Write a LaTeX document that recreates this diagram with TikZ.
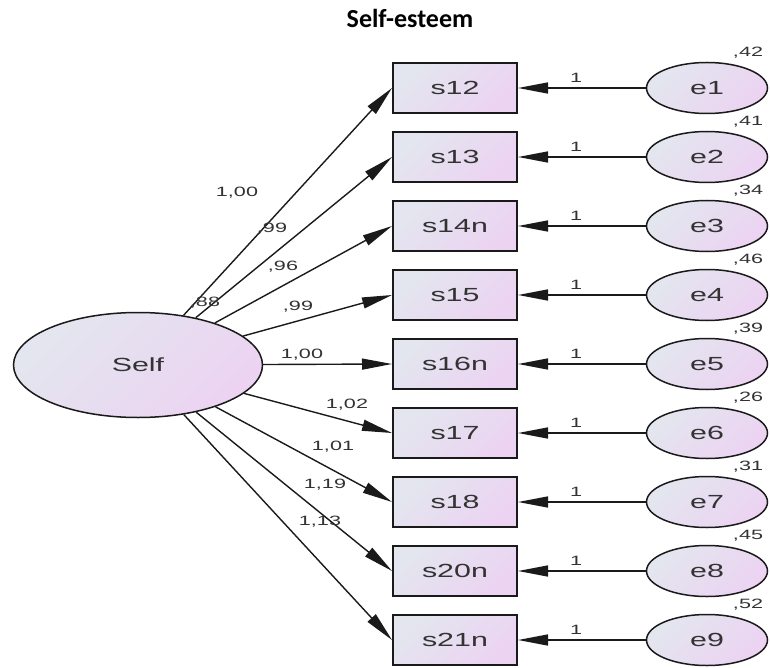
\documentclass[tikz,border=0pt]{standalone}
\usepackage{fontspec}
\usetikzlibrary{arrows.meta,shapes.geometric}
\newfontfamily\amosfont[FakeStretch=1.6]{Liberation Sans}
\newfontfamily\headfont{Carlito}
\definecolor{amosgrey}{HTML}{E3E6EF}
\definecolor{amospink}{HTML}{ECD3F2}
\definecolor{amosline}{HTML}{1A1A1A}
\definecolor{amostext}{HTML}{333333}

\tikzset{
  obsbox/.style={draw=amosline, line width=2pt, rectangle, inner sep=0pt,
    minimum width=124pt, minimum height=50pt, left color=amosgrey, right color=amospink,
    shading angle=45, text=amostext, font=\amosfont\fontsize{19}{20}\selectfont},
  latent/.style={draw=amosline, line width=1.5pt, ellipse, inner sep=0pt,
    left color=amosgrey, right color=amospink, shading angle=45,
    text=amostext, font=\amosfont\fontsize{19}{20}\selectfont},
  errvar/.style={latent, minimum width=121pt, minimum height=51pt},
  loadpath/.style={draw=amosline, line width=1.4pt, -{Triangle[length=30pt,width=11pt]}},
  coef/.style={font=\amosfont\fontsize{13.5}{14}\selectfont, text=amostext, inner sep=0pt}
}

\begin{document}
\begin{tikzpicture}[x=1pt, y=-1pt]
    \useasboundingbox (0,0) rectangle (770,668);

    \node[font=\headfont\bfseries\fontsize{26}{28}\selectfont] (title) at (410,18) {Self-esteem};

    \node[latent, minimum width=249pt, minimum height=105pt] (self) at (138,365) {Self};

    \node[obsbox] (s12) at (455,88) {s12};
    \node[obsbox] (s13) at (455,157) {s13};
    \node[obsbox] (s14n) at (455,226) {s14n};
    \node[obsbox] (s15) at (455,295) {s15};
    \node[obsbox] (s16n) at (455,364) {s16n};
    \node[obsbox] (s17) at (455,433) {s17};
    \node[obsbox] (s18) at (455,502) {s18};
    \node[obsbox] (s20n) at (455,571) {s20n};
    \node[obsbox] (s21n) at (455,640) {s21n};

    \node[errvar] (e1) at (707,88) {e1};
    \node[errvar] (e2) at (707,157) {e2};
    \node[errvar] (e3) at (707,226) {e3};
    \node[errvar] (e4) at (707,295) {e4};
    \node[errvar] (e5) at (707,364) {e5};
    \node[errvar] (e6) at (707,433) {e6};
    \node[errvar] (e7) at (707,502) {e7};
    \node[errvar] (e8) at (707,571) {e8};
    \node[errvar] (e9) at (707,640) {e9};

    % loadings
    \draw[loadpath] (self) -- (s12.west);
    \draw[loadpath] (self) -- (s13.west);
    \draw[loadpath] (self) -- (s14n.west);
    \draw[loadpath] (self) -- (s15.west);
    \draw[loadpath] (self) -- (s16n.west);
    \draw[loadpath] (self) -- (s17.west);
    \draw[loadpath] (self) -- (s18.west);
    \draw[loadpath] (self) -- (s20n.west);
    \draw[loadpath] (self) -- (s21n.west);

    % error terms
    \draw[loadpath] (e1) -- (s12);
    \draw[loadpath] (e2) -- (s13);
    \draw[loadpath] (e3) -- (s14n);
    \draw[loadpath] (e4) -- (s15);
    \draw[loadpath] (e5) -- (s16n);
    \draw[loadpath] (e6) -- (s17);
    \draw[loadpath] (e7) -- (s18);
    \draw[loadpath] (e8) -- (s20n);
    \draw[loadpath] (e9) -- (s21n);

    \node[coef] (l1) at (237,193) {1,00};
    \node[coef] (l2) at (272,229) {,99};
    \node[coef] (l3) at (283,267) {,96};
    \node[coef] (l4) at (205,303) {,88};
    \node[coef] (l5) at (298,307) {,99};
    \node[coef] (l6) at (302,355) {1,00};
    \node[coef] (l7) at (347,405) {1,02};
    \node[coef] (l8) at (333,447) {1,01};
    \node[coef] (l9) at (325,485) {1,19};
    \node[coef] (l10) at (320,522) {1,13};

    \node[coef] (f1) at (576,78) {1};
    \node[coef] (f2) at (576,147) {1};
    \node[coef] (f3) at (576,216) {1};
    \node[coef] (f4) at (576,285) {1};
    \node[coef] (f5) at (576,354) {1};
    \node[coef] (f6) at (576,423) {1};
    \node[coef] (f7) at (576,492) {1};
    \node[coef] (f8) at (576,561) {1};
    \node[coef] (f9) at (576,630) {1};

    \node[coef] (v1) at (748,53) {,42};
    \node[coef] (v2) at (748,122) {,41};
    \node[coef] (v3) at (748,191) {,34};
    \node[coef] (v4) at (748,260) {,46};
    \node[coef] (v5) at (748,329) {,39};
    \node[coef] (v6) at (748,398) {,26};
    \node[coef] (v7) at (748,467) {,31};
    \node[coef] (v8) at (748,536) {,45};
    \node[coef] (v9) at (748,605) {,52};
\end{tikzpicture}
\end{document}
